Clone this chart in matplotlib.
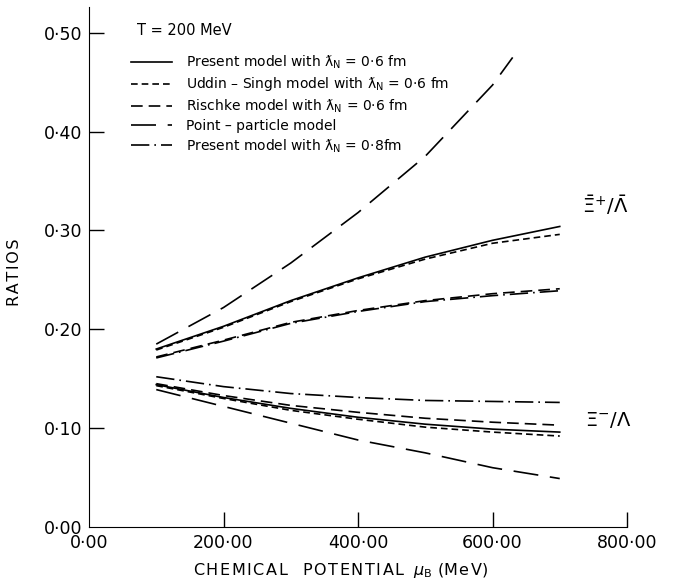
import numpy as np
import matplotlib.pyplot as plt
from matplotlib.lines import Line2D

# chemical potential grid (MeV)
mu = [100, 200, 300, 400, 500, 600, 700]
mu_pp_up = [100, 200, 300, 400, 500, 600, 630]

# Xi+bar / Lambda-bar (upper group)
up_present06 = [0.180, 0.203, 0.229, 0.252, 0.273, 0.290, 0.304]
up_uddin = [0.179, 0.202, 0.228, 0.251, 0.271, 0.287, 0.296]
up_rischke = [0.172, 0.189, 0.207, 0.219, 0.229, 0.236, 0.241]
up_point = [0.185, 0.222, 0.267, 0.318, 0.375, 0.447, 0.475]
up_present08 = [0.171, 0.188, 0.206, 0.218, 0.228, 0.234, 0.239]

# Xi- / Lambda (lower group)
lo_present06 = [0.144, 0.131, 0.120, 0.111, 0.104, 0.099, 0.096]
lo_uddin = [0.143, 0.130, 0.118, 0.109, 0.101, 0.096, 0.092]
lo_rischke = [0.145, 0.133, 0.123, 0.116, 0.110, 0.106, 0.103]
lo_point = [0.139, 0.122, 0.105, 0.088, 0.075, 0.060, 0.049]
lo_present08 = [0.152, 0.142, 0.135, 0.131, 0.128, 0.127, 0.126]

labels = [r'Present model with $\mathregular{ƛ_N}$ = 0·6 fm',
          r'Uddin – Singh model with $\mathregular{ƛ_N}$ = 0·6 fm',
          r'Rischke model with $\mathregular{ƛ_N}$ = 0·6 fm',
          'Point – particle model',
          r'Present model with $\mathregular{ƛ_N}$ = 0·8fm']

xticks = [0, 200, 400, 600, 800]
yticks = [0.0, 0.1, 0.2, 0.3, 0.4, 0.5]

lw = 1.2
styles = ['-', (0, (4, 2.4)), (0, (7, 3.6)), (0, (15, 7)), (0, (11, 3, 1, 3))]

hs = '\u200a'  # hair space for letter spacing


def spaced(s):
    return hs.join(s)


plt.rcParams['font.family'] = 'DejaVu Sans'
fig = plt.figure(figsize=(6.77, 5.85), dpi=100)
ax = fig.add_axes([89 / 677, 1 - 527 / 585, 538 / 677, 520 / 585])

ax.plot(mu, up_present06, color='k', lw=lw, ls=styles[0])
ax.plot(mu, up_uddin, color='k', lw=lw, ls=styles[1])
ax.plot(mu, up_rischke, color='k', lw=lw, ls=styles[2])
ax.plot(mu_pp_up, up_point, color='k', lw=lw, ls=styles[3])
ax.plot(mu, up_present08, color='k', lw=lw, ls=styles[4])

ax.plot(mu, lo_present06, color='k', lw=lw, ls=styles[0])
ax.plot(mu, lo_uddin, color='k', lw=lw, ls=styles[1])
ax.plot(mu, lo_rischke, color='k', lw=lw, ls=styles[2])
ax.plot(mu, lo_point, color='k', lw=lw, ls=styles[3])
ax.plot(mu, lo_present08, color='k', lw=lw, ls=styles[4])

ax.set_xlim(0, 800)
ax.set_ylim(0, 0.526)
ax.spines['top'].set_visible(False)
ax.spines['right'].set_visible(False)
ax.set_xticks(xticks)
ax.set_yticks(yticks)
ax.set_xticklabels([f'{v:.2f}'.replace('.', '·') for v in xticks])
ax.set_yticklabels([f'{v:.2f}'.replace('.', '·') for v in yticks])
ax.tick_params(direction='in', length=11, width=1, labelsize=12.5)
ax.tick_params(axis='x', pad=5)
ax.tick_params(axis='y', pad=5)
# no tick marks at the origin
ax.xaxis.get_major_ticks()[0].tick1line.set_visible(False)
ax.yaxis.get_major_ticks()[0].tick1line.set_visible(False)

ax.set_xlabel(spaced('CHEMICAL') + '   ' + spaced('POTENTIAL') + r'  $\mu_\mathregular{B}$ (' + spaced('MeV') + ')',
              fontsize=11.5)
ax.xaxis.set_label_coords(0.467, -0.066)
ax.set_ylabel(spaced('RATIOS'), fontsize=11.5)
ax.yaxis.set_label_coords(-0.125, 0.49)

ax.text(768, 0.326, r'$\bar{\Xi}^{+}/\bar{\Lambda}$', fontsize=14, ha='center', va='center')
ax.text(772, 0.108, r'$\Xi^{-}/\Lambda$', fontsize=14, ha='center', va='center')

ax.text(0.09, 0.955, 'T = 200 MeV', transform=ax.transAxes, fontsize=10.5, va='center')

handles = [Line2D([], [], color='k', lw=lw, ls=s) for s in styles]
ax.legend(handles, labels, loc='upper left', bbox_to_anchor=(0.078, 0.91),
          frameon=False, fontsize=10, handlelength=2.95, handletextpad=1.0,
          labelspacing=0.3, borderpad=0, borderaxespad=0)

fig.savefig('out.png', dpi=100)
